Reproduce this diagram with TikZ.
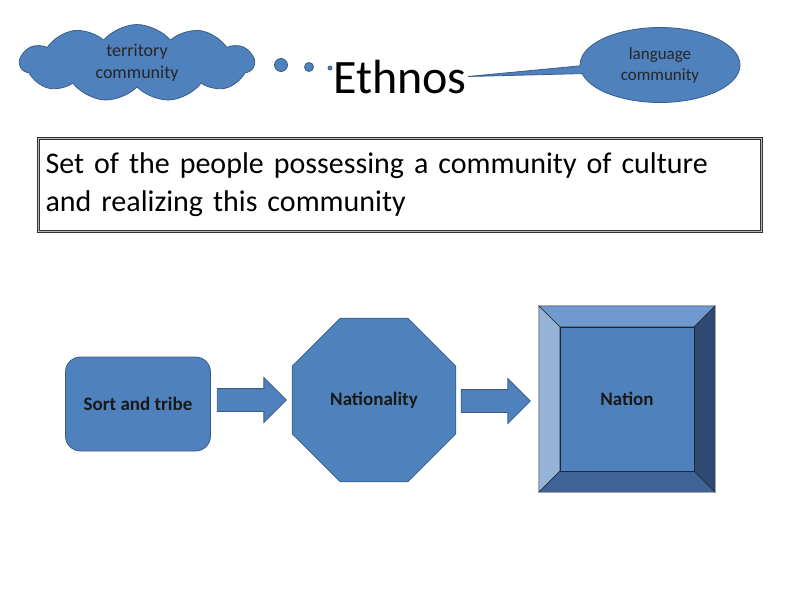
\documentclass[tikz,border=0pt]{standalone}
\usepackage{fontspec}
\setmainfont{Carlito}
\usetikzlibrary{shapes.geometric,shapes.symbols,shapes.callouts,shapes.arrows,calc}
\definecolor{blfill}{HTML}{4F81BD}
\definecolor{blline}{HTML}{385D8A}
\definecolor{bvtop}{HTML}{7099CF}
\definecolor{bvleft}{HTML}{95B3D7}
\definecolor{bvright}{HTML}{2E4A72}
\definecolor{bvbottom}{HTML}{3E6396}
\tikzset{
  blshape/.style={draw=blline,fill=blfill,line width=0.8pt},
  smalltext/.style={font=\fontsize{18}{22}\selectfont,align=center,text=black!85},
  boldtext/.style={font=\fontsize{19}{23}\selectfont\bfseries,text=black!90},
  blockarrow/.style={blshape,single arrow,minimum width=44pt,minimum height=69pt,
    single arrow head extend=11pt,single arrow head indent=0pt,inner xsep=0pt,inner ysep=11pt},
  dot/.style={blshape,circle,inner sep=0pt}
}
\begin{document}
\begin{tikzpicture}[x=1pt,y=-1pt]
	\useasboundingbox (0,0) rectangle (800,600);
	% top line
	\node[blshape,cloud,cloud puffs=11,cloud puff arc=100,aspect=3.8,minimum width=234pt,minimum height=48pt,inner sep=0pt,smalltext] (terr) at (137,63) {territory\\community};
	\node[dot,minimum size=13pt] (d1) at (281,65) {};
	\node[dot,minimum size=9pt] (d2) at (309,67) {};
	\node[dot,minimum size=4pt] (d3) at (330,68) {};
	\node[anchor=base,font=\fontsize{48}{58}\selectfont,inner sep=1pt] (ethnos) at (400,93) {Ethnos};
	\node[blshape,ellipse callout,minimum width=160pt,minimum height=75pt,callout pointer arc=12,
		callout absolute pointer={(ethnos.east)},smalltext,font=\fontsize{17}{21}\selectfont] (lang) at (660,65) {language\\community};
	% definition
	\node[draw=black!80,double=gray!55,line width=0.8pt,double distance=1.6pt,fill=white,
		minimum width=723pt,minimum height=93pt,inner xsep=7pt,text width=709pt,align=left,
		font=\fontsize{30}{38}\selectfont] (defn) at (400,185)
		{Set of the people possessing a community of culture\\and realizing this community};
	% stages
	\node[blshape,rounded corners=15pt,minimum width=145pt,minimum height=94pt,boldtext] (tribe) at (138,404) {Sort and tribe};
	\node[blshape,regular polygon,regular polygon sides=8,minimum size=177pt,inner sep=0pt,boldtext] (natl) at (374,400) {Nationality};
	\node[minimum width=176pt,minimum height=186pt,inner sep=0pt] (nationbox) at (627,399) {};
	\coordinate (nw) at ($(nationbox.north west)+(21,21)$);
	\coordinate (ne) at ($(nationbox.north east)+(-21,21)$);
	\coordinate (se) at ($(nationbox.south east)+(-21,-21)$);
	\coordinate (sw) at ($(nationbox.south west)+(21,-21)$);
	\draw[draw=black!85,fill=bvtop] (nationbox.north west) -- (nationbox.north east) -- (ne) -- (nw) -- cycle;
	\draw[draw=black!85,fill=bvleft] (nationbox.north west) -- (nw) -- (sw) -- (nationbox.south west) -- cycle;
	\draw[draw=black!85,fill=bvright] (nationbox.north east) -- (nationbox.south east) -- (se) -- (ne) -- cycle;
	\draw[draw=black!85,fill=bvbottom] (nationbox.south west) -- (sw) -- (se) -- (nationbox.south east) -- cycle;
	\node[draw=black!85,fill=blfill,minimum width=134pt,minimum height=144pt,boldtext] (nation) at (nationbox.center) {Nation};
	\node[blockarrow,anchor=tip] (a1) at ($(natl.west)+(-5,0)$) {};
	\node[blockarrow,anchor=tip] (a2) at ($(nationbox.west)+(-8,2)$) {};
\end{tikzpicture}
\end{document}
